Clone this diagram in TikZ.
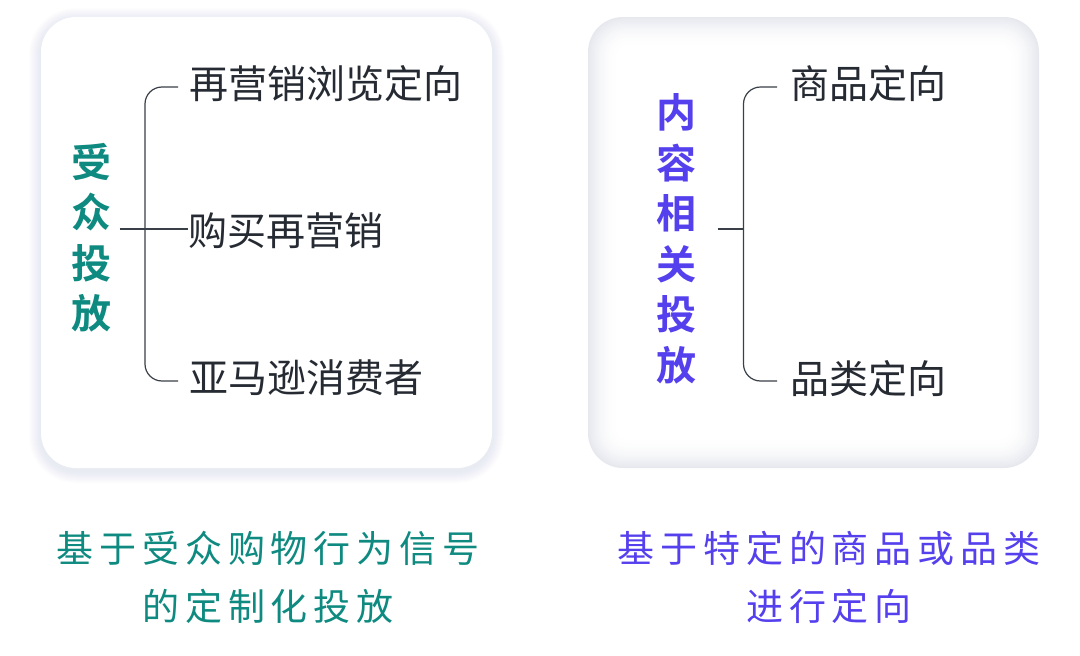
\documentclass[tikz,border=0pt]{standalone}
\usepackage{fontspec}
\setmainfont{Noto Sans CJK SC}
\newfontfamily\cjk{Noto Sans CJK SC}
\newfontfamily\cjkb{Noto Sans CJK SC Bold}
\newfontfamily\cjks[LetterSpace=16]{Noto Sans CJK SC}
\definecolor{tealg}{HTML}{0E8A80}
\definecolor{purp}{HTML}{5540EE}
\definecolor{ink}{HTML}{262B33}
\definecolor{linec}{HTML}{3A4048}
\definecolor{shad}{HTML}{B8BDCC}
\definecolor{vign}{HTML}{E6E8EE}
\begin{document}
\begin{tikzpicture}[x=1pt,y=-1pt,
  item/.style={anchor=west,inner sep=0pt,text=ink,font=\cjk\fontsize{39}{39}\selectfont},
  vtitle/.style={inner sep=0pt,align=center,font=\cjkb\fontsize{40}{50.5}\selectfont},
  caption/.style={inner sep=0pt,align=center,font=\cjks\fontsize{37}{58}\selectfont},
  brk/.style={draw=linec,line width=1.2pt,rounded corners=17pt},
  stem/.style={draw=linec,line width=1.2pt}]
\useasboundingbox (0,0) rectangle (1080,656);
\fill[white] (0,0) rectangle (1080,656);
% left box outer soft shadow
\foreach \i in {1,...,12}{
  \pgfmathsetmacro{\r}{35+\i}
  \fill[shad,opacity=0.02,rounded corners=\r pt]
    ({41-\i},{17-\i+3}) rectangle ({492+\i},{468+\i+3});
}
\fill[white,rounded corners=35pt] (41,17) rectangle (492,468);
% right box with inner vignette
\fill[vign,rounded corners=35pt] (588,17) rectangle (1039,468);
\foreach \i in {1,...,28}{
  \pgfmathsetmacro{\c}{100-100*(1-\i/28)^2}
  \pgfmathsetmacro{\r}{max(35-\i*0.9,6)}
  \fill[white!\c!vign,rounded corners=\r pt]
    ({588+\i*1.1},{17+\i*1.1}) rectangle ({1039-\i*1.1},{468-\i*1.1});
}

% left content
\node[vtitle,text=tealg] (lt) at (91,237.5) {受\\众\\投\\放};
\node[item] (l1) at (189,83.7) {再营销浏览定向};
\node[item] (l2) at (188,230.7) {购买再营销};
\node[item] (l3) at (189,378) {亚马逊消费者};
\coordinate (ls) at (119.5,229);
\coordinate (lv) at (145,229);
\draw[stem] (ls) -- (l2.west|-ls);
\draw[brk] ([xshift=-11pt]l1.west|-0,87) -- (lv|-0,87) -- (lv|-0,381) -- ([xshift=-11pt]l3.west|-0,381);

% right content
\node[vtitle,text=purp] (rt) at (676,239) {内\\容\\相\\关\\投\\放};
\node[item] (r1) at (790,84) {商品定向};
\node[item] (r2) at (790,379) {品类定向};
\coordinate (rs) at (717.5,229);
\coordinate (rv) at (743.5,229);
\draw[stem] (rs) -- (rv);
\draw[brk] ([xshift=-13pt]r1.west|-0,87) -- (rv|-0,87) -- (rv|-0,381) -- ([xshift=-13pt]r2.west|-0,381);

% captions
\node[caption,text=tealg] (lc) at (268,577) {基于受众购物行为信号\\的定制化投放};
\node[caption,text=purp] (rc) at (829,577) {基于特定的商品或品类\\进行定向};
\end{tikzpicture}
\end{document}
